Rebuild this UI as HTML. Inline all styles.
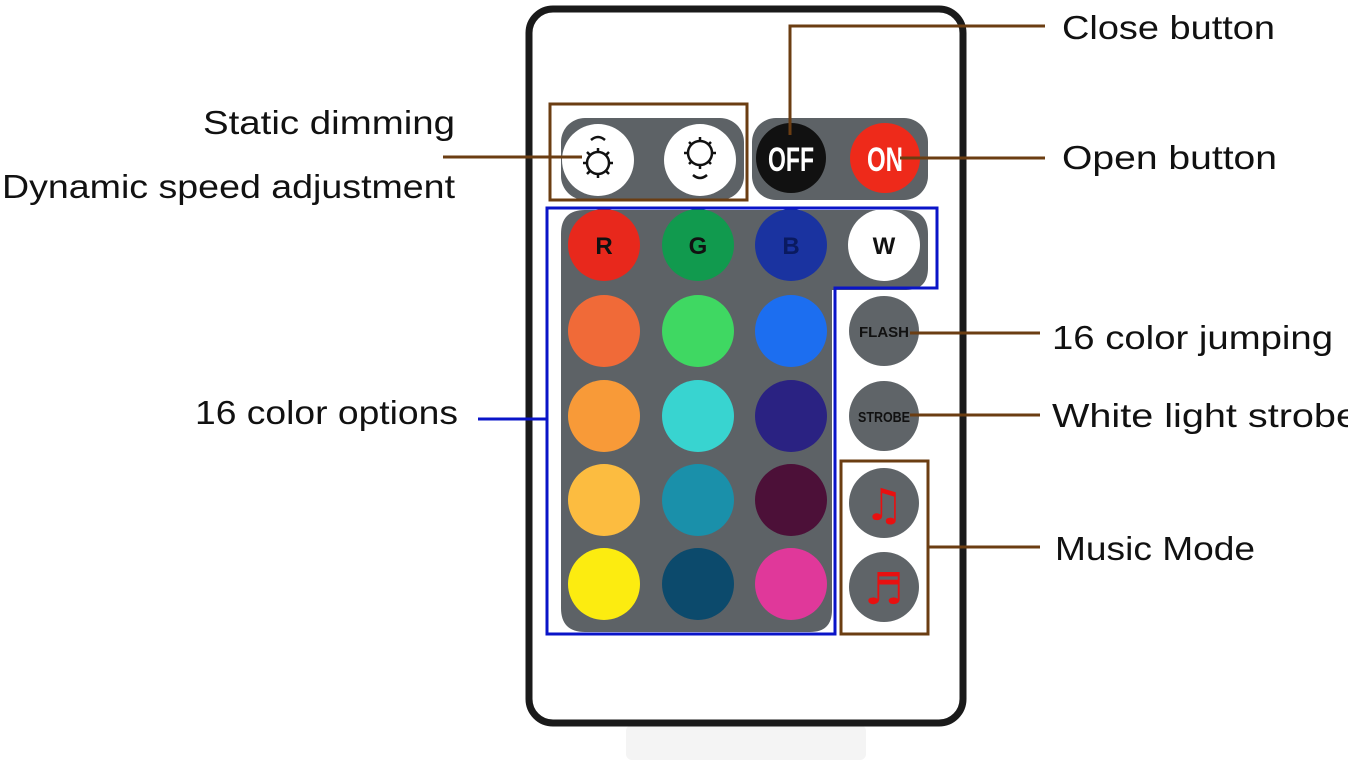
<!DOCTYPE html>
<html><head><meta charset="utf-8"><style>
html,body{margin:0;padding:0;background:#fff;width:1348px;height:764px;overflow:hidden}
text{font-family:"Liberation Sans",sans-serif}
</style></head><body>
<svg width="1348" height="764" viewBox="0 0 1348 764" xmlns="http://www.w3.org/2000/svg">
<rect x="626" y="725" width="240" height="35" rx="6" fill="#f4f4f4"/>
<rect x="529" y="9" width="434" height="714" rx="24" fill="#fff" stroke="#1a1a1a" stroke-width="7"/>
<rect x="561" y="118" width="183" height="82" rx="24" fill="#5d6266"/>
<rect x="752" y="118" width="176" height="82" rx="24" fill="#5d6266"/>
<path d="M585 210 H904 Q928 210 928 234 V268 Q928 290 906 290 H832 V610 Q832 632 810 632 H585 Q561 632 561 608 V234 Q561 210 585 210 Z" fill="#5d6266"/>
<circle cx="598" cy="160" r="36" fill="#fff"/>
<circle cx="700" cy="160" r="36" fill="#fff"/>
<g stroke="#111" stroke-width="2.5" fill="none">
<circle cx="598" cy="163" r="11"/>
<path d="M591 140 Q598 134 605 140"/>
<circle cx="700" cy="153" r="12"/>
<path d="M693 175 Q700 181 707 175"/>
</g>
<g stroke="#111" stroke-width="2.5">
<path d="M598 148v4M598 174v4M583 163h4M609 163h4M587 152l3 3M609 152l-3 3M587 174l3-3M609 174l-3-3"/>
<path d="M700 137v4M700 165v4M684 153h4M712 153h4M689 142l3 3M711 142l-3 3M689 164l3-3M711 164l-3-3"/>
</g>
<circle cx="791" cy="158" r="35" fill="#111"/>
<circle cx="885" cy="158" r="35" fill="#ee2a1a"/>
<text x="791" y="171" font-size="34" font-weight="bold" fill="#fff" text-anchor="middle" textLength="46" lengthAdjust="spacingAndGlyphs">OFF</text>
<text x="885" y="171" font-size="34" font-weight="bold" fill="#fff" text-anchor="middle" textLength="36" lengthAdjust="spacingAndGlyphs">ON</text>
<g>
<circle cx="604" cy="245" r="36" fill="#e8281c"/>
<circle cx="698" cy="245" r="36" fill="#119a4e"/>
<circle cx="791" cy="245" r="36" fill="#1a33a0"/>
<circle cx="884" cy="245" r="36" fill="#fff"/>
<circle cx="604" cy="331" r="36" fill="#f06a38"/>
<circle cx="698" cy="331" r="36" fill="#3fd862"/>
<circle cx="791" cy="331" r="36" fill="#1c6ef0"/>
<circle cx="604" cy="416" r="36" fill="#f89a38"/>
<circle cx="698" cy="416" r="36" fill="#38d4d0"/>
<circle cx="791" cy="416" r="36" fill="#2a2282"/>
<circle cx="604" cy="500" r="36" fill="#fcbc40"/>
<circle cx="698" cy="500" r="36" fill="#1a90aa"/>
<circle cx="791" cy="500" r="36" fill="#4c1038"/>
<circle cx="604" cy="584" r="36" fill="#fcec10"/>
<circle cx="698" cy="584" r="36" fill="#0c4a6c"/>
<circle cx="791" cy="584" r="36" fill="#e0389a"/>
</g>
<text x="604" y="254" font-size="24" font-weight="bold" fill="#111" text-anchor="middle">R</text>
<text x="698" y="254" font-size="24" font-weight="bold" fill="#111" text-anchor="middle">G</text>
<text x="791" y="254" font-size="24" font-weight="bold" fill="#0a1a60" text-anchor="middle">B</text>
<text x="884" y="254" font-size="24" font-weight="bold" fill="#111" text-anchor="middle">W</text>
<circle cx="884" cy="331" r="35" fill="#5f6468"/>
<circle cx="884" cy="416" r="35" fill="#5f6468"/>
<circle cx="884" cy="503" r="35" fill="#5f6468"/>
<circle cx="884" cy="587" r="35" fill="#5f6468"/>
<text x="884" y="337" font-size="15" font-weight="bold" fill="#111" text-anchor="middle" textLength="50" lengthAdjust="spacingAndGlyphs">FLASH</text>
<text x="884" y="422" font-size="15" font-weight="bold" fill="#111" text-anchor="middle" textLength="52" lengthAdjust="spacingAndGlyphs">STROBE</text>
<text x="884" y="520" font-size="44" font-weight="bold" fill="#e81010" text-anchor="middle" style="font-family:'DejaVu Sans',sans-serif">♫</text>
<text x="884" y="604" font-size="44" font-weight="bold" fill="#e81010" text-anchor="middle" style="font-family:'DejaVu Sans',sans-serif">♬</text>
<rect x="550" y="104" width="197" height="96" fill="none" stroke="#6b3d12" stroke-width="3"/>
<path d="M547 208 H937 V288 H835 V634 H547 Z" fill="none" stroke="#0a14c8" stroke-width="3"/>
<rect x="841" y="461" width="87" height="173" fill="none" stroke="#6b3d12" stroke-width="3"/>
<g stroke="#6b3d12" stroke-width="3" fill="none">
<path d="M790 135 V26 H1045"/>
<path d="M900 158 H1045"/>
<path d="M910 333 H1040"/>
<path d="M910 415 H1040"/>
<path d="M928 547 H1040"/>
<path d="M443 157 H582"/>
</g>
<path d="M478 419 H547" stroke="#0a14c8" stroke-width="3"/>
<g font-size="33" fill="#111">
<text x="1062" y="39" textLength="213" lengthAdjust="spacingAndGlyphs">Close button</text>
<text x="1062" y="169" textLength="215" lengthAdjust="spacingAndGlyphs">Open button</text>
<text x="1052" y="349" textLength="281" lengthAdjust="spacingAndGlyphs">16 color jumping</text>
<text x="1052" y="427" textLength="306" lengthAdjust="spacingAndGlyphs">White light strobe</text>
<text x="1055" y="560" textLength="200" lengthAdjust="spacingAndGlyphs">Music Mode</text>
<text x="203" y="134" textLength="252" lengthAdjust="spacingAndGlyphs">Static dimming</text>
<text x="2" y="198" textLength="453" lengthAdjust="spacingAndGlyphs">Dynamic speed adjustment</text>
<text x="195" y="424" textLength="263" lengthAdjust="spacingAndGlyphs">16 color options</text>
</g>
</svg>
</body></html>
